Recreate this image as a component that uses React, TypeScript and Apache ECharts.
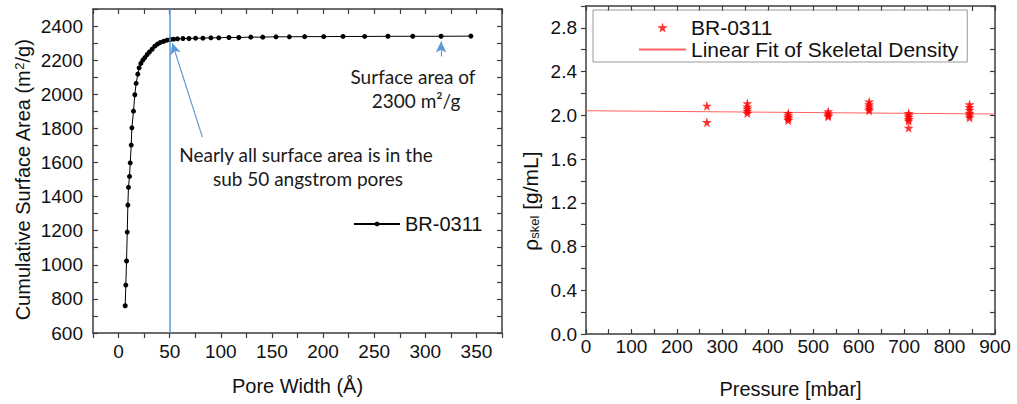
import React, { useEffect, useRef } from 'react';
import * as echarts from 'echarts';

// Left chart: cumulative surface area vs pore width
const poreWidth = [6.5, 7.1, 7.8, 8.5, 9.1, 9.7, 10.7, 11.4, 12.4, 13.0, 14.6, 15.9, 17.2, 18.8, 20.1, 21.8, 23.7, 25.7, 28.0, 30.2, 32.8, 35.4, 38.0, 40.9, 44.2, 47.4, 50.7, 53.9, 57.7, 63.0, 68.9, 75.3, 82.5, 90.3, 98.0, 108.0, 117.6, 129.3, 141.0, 154.0, 167.0, 182.0, 200.6, 219.5, 240.7, 263.4, 287.7, 315.4, 344.6];
const surfaceArea = [760, 881, 1022, 1192, 1350, 1454, 1518, 1598, 1702, 1803, 1901, 1997, 2064, 2118, 2155, 2181, 2200, 2215, 2233, 2248, 2264, 2282, 2294, 2304, 2311, 2317, 2321, 2323, 2325, 2327, 2327, 2329, 2329, 2331, 2331, 2333, 2333, 2335, 2335, 2337, 2337, 2338, 2338, 2339, 2339, 2340, 2340, 2340, 2341];
const leftXLabels = [0, 50, 100, 150, 200, 250, 300, 350];
const leftYLabels = [600, 800, 1000, 1200, 1400, 1600, 1800, 2000, 2200, 2400];

// Right chart: skeletal density vs pressure
const pressureMbar = [266, 266, 355, 355, 355, 355, 355, 445, 445, 445, 445, 445, 533, 533, 533, 533, 623, 623, 623, 623, 623, 710, 710, 710, 710, 710, 710, 844, 844, 844, 844, 844, 844];
const skeletalDensity = [2.087, 1.937, 2.11, 2.08, 2.06, 2.04, 2.02, 2.02, 2.0, 1.985, 1.97, 1.955, 2.035, 2.015, 2.0, 1.99, 2.125, 2.1, 2.08, 2.06, 2.045, 2.02, 2.0, 1.985, 1.965, 1.95, 1.886, 2.1, 2.075, 2.05, 2.02, 2.0, 1.98];
const fitPressure = [0, 900];
const fitDensity = [2.042, 2.012];
const rightXLabels = [0, 100, 200, 300, 400, 500, 600, 700, 800, 900];
const rightYLabels = ['0.0', '0.4', '0.8', '1.2', '1.6', '2.0', '2.4', '2.8'];

const STAR = 'path://M50,0 L61,35 L98,35 L68,57 L79,91 L50,70 L21,91 L32,57 L2,35 L39,35 Z';
const FONT = '"Liberation Sans", Arial, sans-serif';
const AXIS = '#3c3c3c';
const TXT = '#111';

export default function App() {
  const ref = useRef<HTMLDivElement>(null);
  useEffect(() => {
    if (!ref.current) return;
    const chart = echarts.init(ref.current, undefined, { renderer: 'svg' });
    const lineStyle = { color: AXIS, width: 1.5 };
    const label = { fontFamily: FONT, fontSize: 19, color: TXT };
    const title = { fontFamily: FONT, fontSize: 20, color: TXT };
    const border = (extra: any) => ({
      type: 'value',
      axisLine: { show: true, onZero: false, lineStyle },
      axisTick: { show: true, inside: true, length: 5, lineStyle: { color: AXIS, width: 1.2 } },
      axisLabel: { show: false },
      splitLine: { show: false },
      ...extra,
    });
    const annot = (text: string, x: number, y: number) => ({
      type: 'text', x, y,
      style: { text, font: '19px Lato', fill: '#1a1a1a', align: 'center', verticalAlign: 'middle' },
    });
    const option: any = {
      animation: false,
      backgroundColor: '#fff',
      grid: [
        { left: 93, top: 9, width: 409, height: 324 },
        { left: 586, top: 6, width: 409, height: 333 },
      ],
      xAxis: [
        {
          type: 'value', gridIndex: 0, position: 'bottom', min: -25, max: 375, interval: 25,
          axisLine: { show: true, onZero: false, lineStyle },
          axisTick: { show: true, inside: false, length: 5, lineStyle: { color: AXIS, width: 1.2 } },
          axisLabel: { ...label, margin: 9, formatter: (v: number) => (leftXLabels.includes(v) ? String(v) : '') },
          splitLine: { show: false },
          name: 'Pore Width (Å)', nameLocation: 'middle', nameGap: 43,
          nameTextStyle: title,
        },
        border({ gridIndex: 0, position: 'top', min: -25, max: 375, interval: 25 }),
        {
          type: 'value', gridIndex: 1, position: 'bottom', min: 0, max: 900, interval: 50,
          axisLine: { show: true, onZero: false, lineStyle },
          axisTick: { show: true, inside: true, length: 5, lineStyle: { color: AXIS, width: 1.2 } },
          axisLabel: { ...label, margin: 3, formatter: (v: number) => (rightXLabels.includes(v) ? String(v) : '') },
          splitLine: { show: false },
          name: 'Pressure [mbar]', nameLocation: 'middle', nameGap: 45,
          nameTextStyle: title,
        },
        border({ gridIndex: 1, position: 'top', min: 0, max: 900, interval: 50 }),
      ],
      yAxis: [
        {
          type: 'value', gridIndex: 0, position: 'left', min: 600, max: 2500, interval: 100,
          axisLine: { show: true, onZero: false, lineStyle },
          axisTick: { show: true, inside: true, length: 5, lineStyle: { color: AXIS, width: 1.2 } },
          axisLabel: { ...label, margin: 10, formatter: (v: number) => (leftYLabels.includes(v) ? String(v) : '') },
          splitLine: { show: false },
          name: 'Cumulative Surface Area (m{sup|2}/g)', nameLocation: 'middle', nameGap: 60,
          nameTextStyle: {
            ...title, padding: [0, 18, 0, 0],
            rich: { sup: { fontFamily: FONT, fontSize: 13, color: TXT, verticalAlign: 'top', lineHeight: 13 } },
          },
        },
        border({ gridIndex: 0, position: 'right', min: 600, max: 2500, interval: 100 }),
        {
          type: 'value', gridIndex: 1, position: 'left', min: 0, max: 3, interval: 0.2,
          axisLine: { show: true, onZero: false, lineStyle },
          axisTick: { show: true, inside: false, length: 5, lineStyle: { color: AXIS, width: 1.2 } },
          axisLabel: {
            ...label, margin: 9,
            formatter: (v: number) => {
              const s = v.toFixed(1);
              return rightYLabels.includes(s) ? s : '';
            },
          },
          splitLine: { show: false },
          name: '{rho|ρ}{sub|skel} [g/mL]', nameLocation: 'middle', nameGap: 45,
          nameTextStyle: {
            ...title, fontSize: 21, padding: [0, 62, 0, 0],
            rich: {
              rho: { fontFamily: FONT, fontSize: 21, color: TXT },
              sub: { fontFamily: FONT, fontSize: 13, color: TXT, verticalAlign: 'bottom', lineHeight: 13 },
            },
          },
        },
        border({ gridIndex: 1, position: 'right', min: 0, max: 3, interval: 0.2 }),
      ],
      legend: [
        {
          data: ['BR-0311'], left: 348, top: 209, itemWidth: 46, itemHeight: 6, itemGap: 5,
          selectedMode: false, textStyle: { fontFamily: FONT, fontSize: 20, color: TXT },
        },
        {
          data: ['BR-0311 data', { name: 'Linear Fit of Skeletal Density', itemStyle: { opacity: 0 } }],
          formatter: (n: string) => (n === 'BR-0311 data' ? 'BR-0311' : n),
          orient: 'vertical', left: 593, top: 10, padding: [7, 9, 2, 45], itemGap: 1,
          itemWidth: 47, itemHeight: 10, borderColor: '#999', borderWidth: 1, selectedMode: false,
          textStyle: { fontFamily: FONT, fontSize: 21, color: TXT },
        },
      ],
      series: [
        {
          type: 'line', name: 'BR-0311', xAxisIndex: 0, yAxisIndex: 0,
          data: poreWidth.map((x, i) => [x, surfaceArea[i]]),
          symbol: 'circle', symbolSize: 5, showSymbol: true,
          lineStyle: { color: '#000', width: 1 }, itemStyle: { color: '#000' },
          markLine: {
            silent: true, animation: false, symbol: ['none', 'none'],
            label: { show: false },
            lineStyle: { color: '#5b9bd5', width: 1.5, type: 'solid' },
            data: [
              { xAxis: 50 },
              [
                { coord: [82, 1749], lineStyle: { color: '#5b9bd5', width: 1.2, type: 'solid' } },
                { coord: [52.5, 2300], symbol: 'arrow', symbolSize: [8, 11] },
              ],
              [
                { coord: [315.4, 2222], lineStyle: { color: '#5b9bd5', width: 1.2, type: 'solid' } },
                { coord: [315.4, 2310], symbol: 'arrow', symbolSize: [8, 11] },
              ],
            ],
          },
        },
        {
          type: 'line', name: 'Linear Fit of Skeletal Density', xAxisIndex: 2, yAxisIndex: 2,
          data: fitPressure.map((x, i) => [x, fitDensity[i]]),
          symbol: 'none', showSymbol: false,
          lineStyle: { color: '#ff6262', width: 1 }, itemStyle: { color: '#ff6262' }, z: 1,
        },
        {
          type: 'scatter', name: 'BR-0311 data', xAxisIndex: 2, yAxisIndex: 2,
          data: pressureMbar.map((x, i) => [x, skeletalDensity[i]]),
          symbol: STAR, symbolSize: 10, itemStyle: { color: '#ff0000' }, z: 3,
        },
      ],
      graphic: [
        annot('Nearly all surface area is in the', 306, 154),
        annot('sub 50 angstrom pores', 308, 178),
        annot('Surface area of', 413, 76),
        annot('2300 m²/g', 416, 100),
      ],
    };
    chart.setOption(option);
    return () => chart.dispose();
  }, []);
  return <div ref={ref} style={{ position: 'fixed', left: 0, top: 0, width: 1017, height: 404, background: '#fff' }} />;
}
